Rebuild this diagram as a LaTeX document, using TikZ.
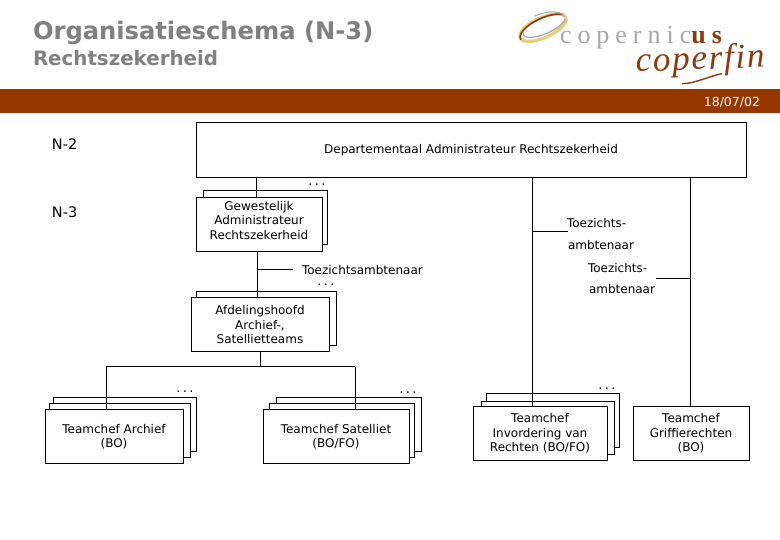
\documentclass[tikz,border=0pt]{standalone}
\usepackage{fontspec}
\setmainfont{DejaVu Sans}
\newfontfamily\logofont{Liberation Serif}
\usetikzlibrary{calc}
\definecolor{barbrown}{HTML}{963700}
\definecolor{titlegrey}{HTML}{808080}
\definecolor{logobrown}{HTML}{8C3A10}
\definecolor{logogold}{HTML}{E8CC80}
\definecolor{logogrey}{HTML}{A8A8A8}
\tikzset{
  every node/.style={inner sep=0pt,outer sep=0pt},
  orgbox/.style={draw=black,fill=white,line width=1pt,anchor=north west,align=center,font=\fontsize{12}{14.5}\selectfont},
  backbox/.style={draw=black,fill=white,line width=1pt},
  link/.style={draw=black,line width=1pt},
  lbl/.style={font=\fontsize{12}{14}\selectfont,anchor=west},
  lvl/.style={font=\fontsize{14.5}{16}\selectfont,anchor=west},
  dots/.style={font=\fontsize{13}{10}\selectfont\addfontfeature{LetterSpace=18}},
}
\newcommand{\orgnode}[6]{% name, x0,y0,x1,y1,text
  \node[orgbox,minimum width=#4-#2,minimum height=#5-#3] (#1) at (#2,#3) {#6};}
\begin{document}
\begin{tikzpicture}[x=1pt,y=-1pt]
\useasboundingbox (0,-0.7) rectangle (780,539.3);
\fill[white] (0,-0.7) rectangle (780,539.3);
% header
\fill[barbrown] (0,88.5) rectangle (780,112.5);
\node[anchor=west,text=titlegrey,font=\bfseries\fontsize{24.2}{26}\selectfont] (title) at (33,32.5) {Organisatieschema (N-3)};
\node[anchor=west,text=titlegrey,font=\bfseries\fontsize{19.8}{21}\selectfont] (subtitle) at (33,57.5) {Rechtszekerheid};
\node[anchor=east,text=white,font=\fontsize{12.5}{14}\selectfont] (date) at (760,101.5) {18/07/02};
% logo
\begin{scope}[shift={(543,27)},rotate=24]
  \draw[logogold,line width=3.2pt] (0,0) ellipse (25 and 10);
  \draw[logobrown,line width=1.6pt] (-25,2) arc (175:330:26 and 10.5);
  \draw[logogrey,line width=1.3pt] (-20,-4) arc (195:20:23 and 8.5);
  \draw[logogrey,line width=1pt] (24,-1) arc (0:-90:27 and 13);
\end{scope}
\node[anchor=west,text=logogrey,font=\logofont\fontsize{26}{28}\selectfont] (cop) at (560,37) {\addfontfeature{LetterSpace=23}copernic\textcolor{logobrown}{\bfseries us}};
\node[anchor=base west,text=logobrown,font=\logofont\itshape\fontsize{35}{38}\selectfont\addfontfeature{LetterSpace=5},rotate=2] (fin) at (636,71) {coperfin};
\draw[logobrown,line width=1.4pt] (682,83) .. controls (695,83) and (710,75) .. (722,73);
% level labels
\node[lvl] (n2) at (52,143.5) {N-2};
\node[lvl] (n3) at (52,211.5) {N-3};
% stacked back boxes
\draw[backbox] (203,190) rectangle (327,244);
\draw[backbox] (196,291) rectangle (336,345);
\draw[backbox] (53,397) rectangle (196,451);
\draw[backbox] (49,403) rectangle (190,457);
\draw[backbox] (276,397) rectangle (421,451);
\draw[backbox] (269,403) rectangle (414,457);
\draw[backbox] (486,393) rectangle (619,447);
\draw[backbox] (481,401) rectangle (614,454);
% junction coordinates
\coordinate (jg) at (256,177);
\coordinate (ja) at (257,251);
\coordinate (jt) at (293,269);
\coordinate (jd) at (260,351);
\coordinate (jh) at (260,366);
\coordinate (jl) at (106,366);
\coordinate (jr) at (355,366);
\coordinate (jin) at (532,177);
\coordinate (jgr) at (690,177);
\coordinate (jb1) at (568,231);
\coordinate (jb2) at (656,278);
% front nodes (drawn later, on a layer above the links)
\pgfdeclarelayer{front}\pgfsetlayers{main,front}
\begin{pgfonlayer}{front}
\orgnode{top}{196}{122}{746}{177}{Departementaal Administrateur Rechtszekerheid}
\orgnode{gw}{196}{197}{322}{251}{Gewestelijk\\Administrateur\\Rechtszekerheid\\[-5.5pt]\mbox{}}
\orgnode{afd}{191}{297}{329}{351}{Afdelingshoofd\\Archief-,\\Satellietteams}
\orgnode{arch}{45}{409}{183}{463}{Teamchef Archief\\(BO)}
\orgnode{sat}{263}{409}{409}{463}{Teamchef Satelliet\\(BO/FO)}
\orgnode{inv}{473}{406}{607}{460}{Teamchef\\Invordering van\\Rechten (BO/FO)}
\orgnode{gri}{633}{406}{749}{460}{Teamchef\\Griffierechten\\(BO)}
\end{pgfonlayer}
% links
\draw[link] (jg) -- (jg |- gw.north);
\draw[link] (ja) -- (ja |- afd.north);
\draw[link] (ja |- jt) -- (jt);
\draw[link] (jd) -- (jh);
\draw[link] (jl) -- (jr);
\draw[link] (jl) -- (jl |- arch.north);
\draw[link] (jr) -- (jr |- sat.north);
\draw[link] (jin) -- (jin |- inv.north);
\draw[link] (jgr) -- (jgr |- gri.north);
\draw[link] (jin |- jb1) -- (jb1);
\draw[link] (jgr |- jb2) -- (jb2);
% labels on branches
\node[lbl] (t1) at (302,269.5) {Toezichtsambtenaar};
\node[lbl] (t2a) at (567,222.5) {Toezichts-};
\node[lbl] (t2b) at (568,244.5) {ambtenaar};
\node[lbl] (t3a) at (588,267.5) {Toezichts-};
\node[lbl] (t3b) at (589,288.5) {ambtenaar};
% ellipses
\node[dots] (d1) at (317,184) {...};
\node[dots] (d2) at (326,284) {...};
\node[dots] (d3) at (185,390.5) {...};
\node[dots] (d4) at (408,391.5) {...};
\node[dots] (d5) at (607,387.5) {...};
\end{tikzpicture}
\end{document}
